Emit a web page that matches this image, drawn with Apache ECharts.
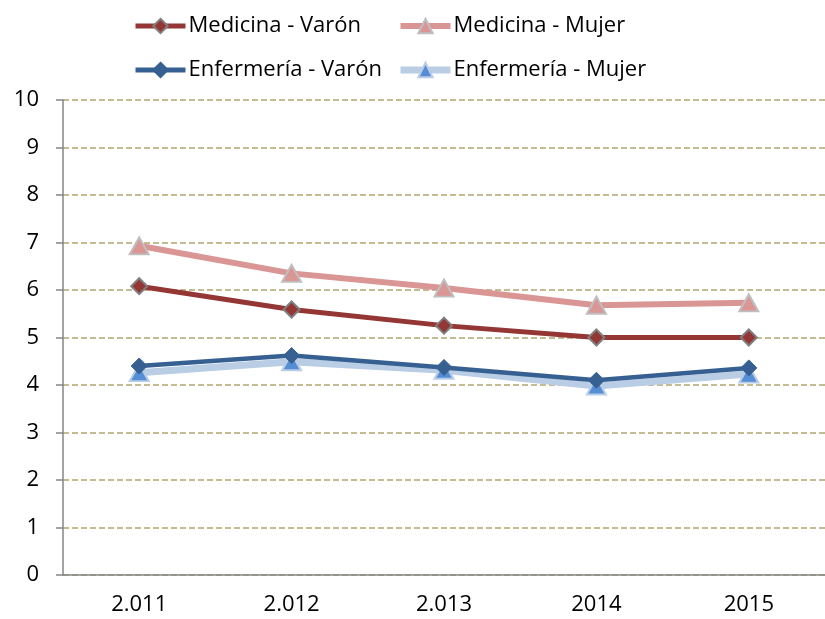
<!DOCTYPE html>
<html>
<head>
<meta charset="utf-8">
<script src="https://cdn.jsdelivr.net/npm/echarts@6/dist/echarts.min.js"></script>
<style>
  html, body { margin: 0; padding: 0; background: #fff; }
  #chart { width: 825px; height: 619px; }
</style>
</head>
<body>
<div id="chart"></div>
<script>
// datos
var years = ['2.011', '2.012', '2.013', '2014', '2015'];
var yTicks = [0, 10, 1];
var medVaron = [6.08, 5.59, 5.25, 5.0, 5.0];
var medMujer = [6.93, 6.35, 6.04, 5.68, 5.73];
var enfVaron = [4.40, 4.62, 4.37, 4.10, 4.36];
var enfMujer = [4.26, 4.49, 4.31, 3.98, 4.23];

var fontName = 'Open Sans';
var myChart = echarts.init(document.getElementById('chart'), null, { renderer: 'canvas' });

var legendText = { fontFamily: fontName, fontSize: 22, color: '#000', padding: [0, 0, 0, -2] };

function legendItem(name, w) {
  return { name: name, lineStyle: { width: w } };
}

var option = {
  animation: false,
  legend: [{
    orient: 'vertical',
    left: 128,
    top: 10,
    itemWidth: 50,
    itemHeight: 18,
    itemGap: 22,
    textStyle: legendText,
    data: [legendItem('Medicina - Varón', 5), legendItem('Enfermería - Varón', 5)]
  }, {
    orient: 'vertical',
    left: 392,
    top: 10,
    itemWidth: 50,
    itemHeight: 18,
    itemGap: 22,
    textStyle: legendText,
    data: [legendItem('Medicina - Mujer', 6), legendItem('Enfermería - Mujer', 7)]
  }],
  grid: {
    left: 63,
    right: -5,
    top: 100,
    bottom: 44
  },
  xAxis: {
    type: 'category',
    data: years,
    boundaryGap: true,
    axisLine: { lineStyle: { color: '#868686', width: 1.5 } },
    axisTick: { length: 6, lineStyle: { color: '#868686', width: 1.5 } },
    axisLabel: { fontFamily: fontName, fontSize: 22, color: '#000', margin: 19 }
  },
  yAxis: {
    type: 'value',
    min: yTicks[0],
    max: yTicks[1],
    interval: yTicks[2],
    axisLine: { show: true, lineStyle: { color: '#868686', width: 1.5 } },
    axisTick: { show: true, length: 7, lineStyle: { color: '#868686', width: 1.5 } },
    axisLabel: { fontFamily: fontName, fontSize: 22, color: '#000', margin: 24 },
    splitLine: {
      show: true,
      lineStyle: { color: '#C4BB93', width: 1.8, type: [6, 3] }
    }
  },
  series: [{
    name: 'Medicina - Varón',
    type: 'line',
    data: medVaron,
    z: 3,
    symbol: 'diamond',
    symbolSize: 16,
    lineStyle: { color: '#943634', width: 5 },
    itemStyle: { color: '#943634', borderColor: '#7F7F7F', borderWidth: 2 }
  }, {
    name: 'Medicina - Mujer',
    type: 'line',
    data: medMujer,
    z: 2,
    symbol: 'triangle',
    symbolSize: [19, 17],
    lineStyle: { color: '#D99694', width: 6 },
    itemStyle: { color: '#D99694', borderColor: '#BFBFBF', borderWidth: 2 }
  }, {
    name: 'Enfermería - Varón',
    type: 'line',
    data: enfVaron,
    z: 5,
    symbol: 'diamond',
    symbolSize: 16,
    lineStyle: { color: '#376092', width: 4.5 },
    itemStyle: { color: '#376092', borderColor: '#376092', borderWidth: 1 }
  }, {
    name: 'Enfermería - Mujer',
    type: 'line',
    data: enfMujer,
    z: 4,
    symbol: 'triangle',
    symbolSize: [19, 17],
    lineStyle: { color: '#B9CDE5', width: 7 },
    itemStyle: { color: '#558ED5', borderColor: '#B9CDE5', borderWidth: 2 }
  }]
};
myChart.setOption(option);
</script>
</body>
</html>
